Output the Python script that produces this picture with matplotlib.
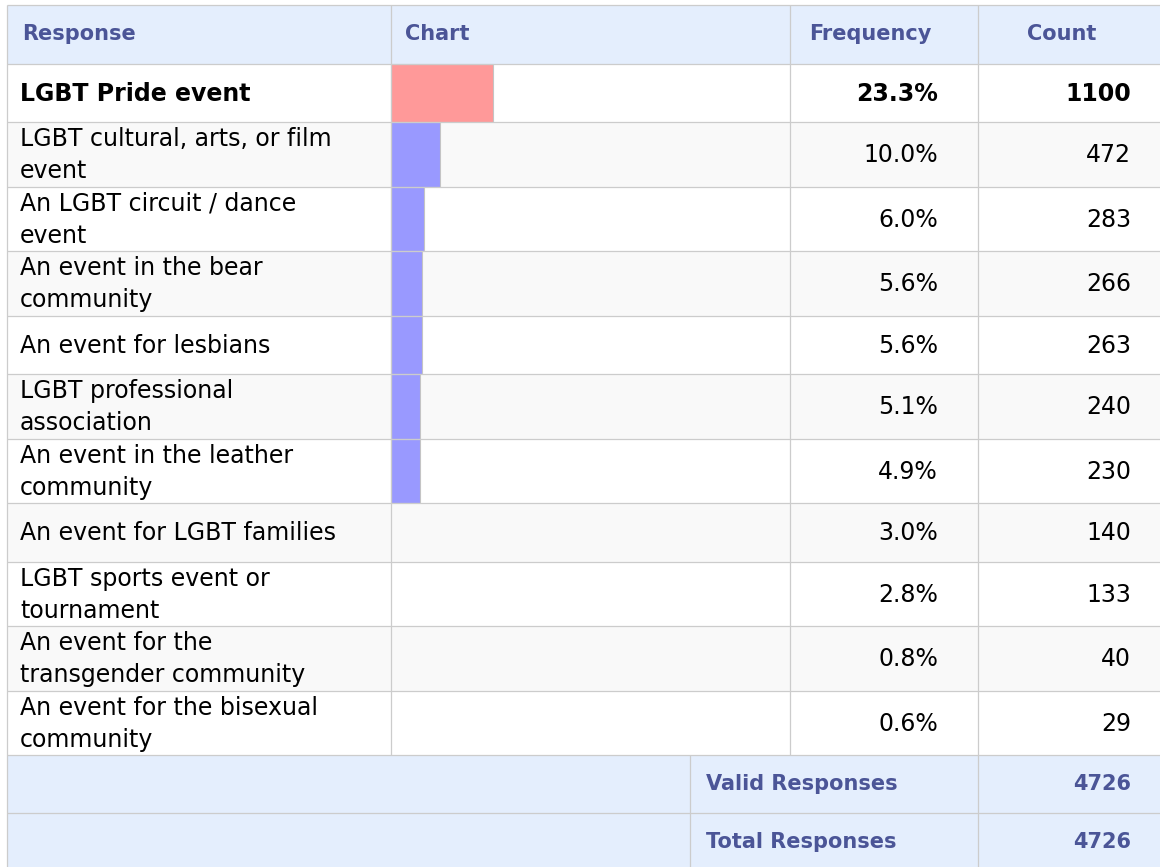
import matplotlib.pyplot as plt
from matplotlib.patches import Rectangle

# Table data
responses = [
    'LGBT Pride event',
    'LGBT cultural, arts, or film\nevent',
    'An LGBT circuit / dance\nevent',
    'An event in the bear\ncommunity',
    'An event for lesbians',
    'LGBT professional\nassociation',
    'An event in the leather\ncommunity',
    'An event for LGBT families',
    'LGBT sports event or\ntournament',
    'An event for the\ntransgender community',
    'An event for the bisexual\ncommunity',
]
frequency = [23.3, 10.0, 6.0, 5.6, 5.6, 5.1, 4.9, 3.0, 2.8, 0.8, 0.6]
counts = [1100, 472, 283, 266, 263, 240, 230, 140, 133, 40, 29]
headers = ['Response', 'Chart', 'Frequency', 'Count']
footer_labels = ['Valid Responses', 'Total Responses']
footer_values = [4726, 4726]

# Styling
header_bg = '#e4eefd'
header_fg = '#4b5597'
stripe_bg = '#f9f9f9'
grid_col = '#cccccc'
top_col = '#ff9999'
bar_col = '#9999ff'
font = 'DejaVu Sans'

W, H = 1160, 867
fig = plt.figure(figsize=(W / 100, H / 100), dpi=100)
ax = fig.add_axes([0, 0, 1, 1])
ax.set_xlim(0, W)
ax.set_ylim(H, 0)
ax.axis('off')

x_left, x_chart, x_freq, x_count, x_right = 6.5, 391, 790, 978, 1200
x_split = 690
y = 4.5
head_h = 59

# header
ax.add_patch(Rectangle((x_left, y), x_right - x_left, head_h, facecolor=header_bg, edgecolor='none'))
cy = y + head_h / 2
ax.text(22, cy, headers[0], ha='left', va='center', fontsize=15, fontweight='bold', color=header_fg, family=font)
ax.text(405, cy, headers[1], ha='left', va='center', fontsize=15, fontweight='bold', color=header_fg, family=font)
ax.text(870, cy, headers[2], ha='center', va='center', fontsize=15, fontweight='bold', color=header_fg, family=font)
ax.text(1062, cy, headers[3], ha='center', va='center', fontsize=15, fontweight='bold', color=header_fg, family=font)
hlines = [y, y + head_h]
y += head_h

# bar scale (px per percent plus a small base width); only larger values get a bar
bar_base, bar_scale, bar_min = 9.2, 3.98, 4.5

for i, (lab, f, c) in enumerate(zip(responses, frequency, counts)):
    n_lines = lab.count('\n') + 1
    h = 58.5 if n_lines == 1 else 64.5
    bg = 'white' if i % 2 == 0 else stripe_bg
    ax.add_patch(Rectangle((x_left, y), x_right - x_left, h, facecolor=bg, edgecolor='none'))
    if f >= bar_min:
        w = bar_base + bar_scale * f
        ax.add_patch(Rectangle((x_chart, y), w, h, facecolor=top_col if i == 0 else bar_col,
                               edgecolor='#c4c4c4', linewidth=0.8))
    cy = y + h / 2
    weight = 'bold' if i == 0 else 'normal'
    ax.text(20, cy + 1, lab, ha='left', va='center', fontsize=17, fontweight=weight,
            color='black', family=font, linespacing=1.4)
    ax.text(938, cy + 1, f'{f:.1f}%', ha='right', va='center', fontsize=17, fontweight=weight,
            color='black', family=font)
    ax.text(1131, cy + 1, str(c), ha='right', va='center', fontsize=17, fontweight=weight,
            color='black', family=font)
    y += h
    hlines.append(y)

body_bottom = y

# footer
foot_h = 58
for lab, v in zip(footer_labels, footer_values):
    ax.add_patch(Rectangle((x_left, y), x_right - x_left, foot_h, facecolor=header_bg, edgecolor='none'))
    cy = y + foot_h / 2
    ax.text(706, cy, lab, ha='left', va='center', fontsize=15, fontweight='bold', color=header_fg, family=font)
    ax.text(1131, cy, str(v), ha='right', va='center', fontsize=15, fontweight='bold', color=header_fg, family=font)
    y += foot_h
    hlines.append(y)

lw = 0.9
ax.hlines(hlines, x_left, x_right, colors=grid_col, linewidth=lw)
ax.vlines([x_left], 4.5, y, colors=grid_col, linewidth=lw)
ax.vlines([x_chart, x_freq, x_count], 4.5, body_bottom, colors=grid_col, linewidth=lw)
ax.vlines([x_split, x_count], body_bottom, y, colors=grid_col, linewidth=lw)

fig.savefig('out.png', dpi=100)
